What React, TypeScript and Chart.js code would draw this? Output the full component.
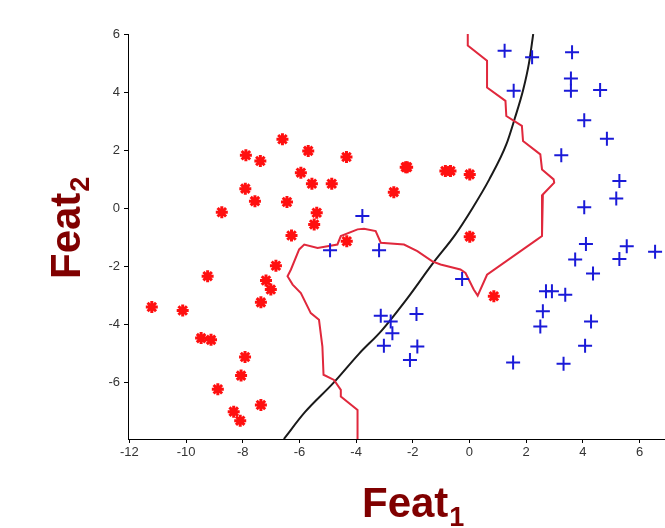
import React, { useEffect, useRef } from "react";
import { Chart, registerables } from "chart.js";

Chart.register(...registerables);

// Class 1 (red asterisks)
const redX = [-6.60, -7.89, -7.38, -5.69, -4.34, -5.95, -5.56, -4.86, -7.91, -7.57, -6.44, -8.74, -5.39, -5.48, -2.67, -2.25, -0.85, -0.67, 0.01, 0.01, -6.28, -4.33, -6.83, -9.24, -7.18, -7.01, -7.36, -11.21, -10.12, -9.47, -9.12, -7.92, -8.06, -8.88, -8.32, -8.09, -7.36, 0.86, -2.20];
const redY = [2.38, 1.83, 1.63, 1.98, 1.77, 1.23, 0.85, 0.85, 0.68, 0.25, 0.22, -0.13, -0.15, -0.55, 0.56, 1.42, 1.29, 1.29, 1.17, -0.97, -0.93, -1.13, -1.97, -2.33, -2.48, -2.79, -3.23, -3.39, -3.51, -4.46, -4.52, -5.11, -5.75, -6.22, -6.99, -7.30, -6.76, -3.02, 1.42];

// Class 2 (blue plus signs)
const blueX = [1.24, 2.21, 3.62, 3.58, 3.58, 4.61, 1.56, 4.05, 4.85, 3.24, 5.29, 5.18, 4.05, -3.78, -4.92, -3.19, -3.13, -2.78, -2.72, -3.02, -0.26, 4.11, 5.55, 6.55, 3.73, 5.29, 4.36, 2.70, 2.91, 3.38, 2.59, 2.50, 4.29, 4.08, 1.54, 3.32, -1.87, -1.84, -2.10];
const blueY = [5.42, 5.20, 5.37, 4.47, 4.05, 4.07, 4.05, 3.03, 2.40, 1.83, 0.94, 0.34, 0.04, -0.26, -1.44, -1.44, -3.69, -3.89, -4.29, -4.72, -2.43, -1.22, -1.30, -1.49, -1.76, -1.74, -2.24, -2.85, -2.85, -2.97, -3.54, -4.06, -3.89, -4.72, -5.30, -5.34, -3.63, -4.75, -5.21];

// Black smooth boundary
const curveX = [-6.55, -5.8, -4.8, -3.9, -3.1, -2.2, -1.3, -0.5, 0.1, 0.7, 1.3, 1.6, 1.9, 2.1, 2.25];
const curveY = [-7.93, -7.0, -6.0, -5.0, -4.2, -3.1, -1.9, -0.9, 0.0, 1.0, 2.2, 3.1, 4.1, 5.0, 6.0];

// Red jagged boundary
const jagX = [-0.06, -0.06, 0.62, 0.62, 1.27, 1.30, 1.85, 1.89, 2.50, 2.56, 2.97, 2.99, 2.59, 2.56, 2.38, 0.62, 0.29, 0.15, -0.14, -0.32, -1.02, -1.31, -1.84, -2.31, -3.13, -3.31, -3.72, -3.95, -4.54, -4.66, -5.01, -5.36, -5.83, -6.01, -6.30, -6.42, -6.24, -5.95, -5.60, -5.31, -5.19, -5.15, -4.78, -4.54, -4.54, -3.95, -3.95];
const jagY = [6.0, 5.60, 5.08, 4.16, 3.70, 3.18, 2.84, 2.32, 1.86, 1.34, 1.00, 0.89, 0.48, -0.95, -1.07, -2.28, -3.0, -2.79, -2.22, -2.10, -1.93, -1.82, -1.47, -1.24, -1.18, -0.78, -0.70, -0.72, -0.95, -1.24, -1.30, -1.36, -1.24, -1.41, -2.10, -2.33, -2.62, -2.91, -3.60, -3.83, -4.75, -5.72, -5.90, -6.24, -6.47, -6.93, -7.93];

const xTicks = [-12, -10, -8, -6, -4, -2, 0, 2, 4, 6];
const yTicks = [-6, -4, -2, 0, 2, 4, 6];

const zip = (xs: number[], ys: number[]) => xs.map((x, i) => ({ x, y: ys[i] }));

const titlePlugin = {
  id: "featTitles",
  afterDraw(chart: any) {
    const ctx = chart.ctx;
    ctx.save();
    ctx.fillStyle = "#800000";
    ctx.textBaseline = "alphabetic";
    ctx.textAlign = "left";
    // x title
    ctx.font = "bold 42px 'Liberation Sans', Arial, sans-serif";
    ctx.fillText("Feat", 362, 517);
    const w = ctx.measureText("Feat").width;
    ctx.font = "bold 27px 'Liberation Sans', Arial, sans-serif";
    ctx.fillText("1", 362 + w + 1, 526);
    // y title
    ctx.translate(80, 279);
    ctx.rotate(-Math.PI / 2);
    ctx.font = "bold 42px 'Liberation Sans', Arial, sans-serif";
    ctx.fillText("Feat", 0, 0);
    const w2 = ctx.measureText("Feat").width;
    ctx.font = "bold 27px 'Liberation Sans', Arial, sans-serif";
    ctx.fillText("2", w2 + 1, 9);
    ctx.restore();
  },
};

export default function App() {
  const ref = useRef<HTMLCanvasElement | null>(null);
  useEffect(() => {
    if (!ref.current) return;
    const chart = new Chart(ref.current, {
      type: "scatter",
      data: {
        datasets: [
          {
            label: "Class 1",
            data: zip(redX, redY),
            pointStyle: "star",
            pointRadius: 6,
            borderWidth: 3,
            borderColor: "#ff1010",
            backgroundColor: "#ff1010",
          },
          {
            label: "Class 2",
            data: zip(blueX, blueY),
            pointStyle: "cross",
            pointRadius: 7,
            borderWidth: 2,
            borderColor: "#1a1ad8",
            backgroundColor: "#1a1ad8",
          },
          {
            label: "Boundary (jagged)",
            type: "line",
            data: zip(jagX, jagY),
            showLine: true,
            pointRadius: 0,
            borderColor: "#e0283c",
            borderWidth: 2,
            tension: 0,
          } as any,
          {
            label: "Boundary (smooth)",
            type: "line",
            data: zip(curveX, curveY),
            showLine: true,
            pointRadius: 0,
            borderColor: "#1a1a1a",
            borderWidth: 2,
            tension: 0.4,
            cubicInterpolationMode: "monotone",
          } as any,
        ],
      },
      options: {
        animation: false,
        responsive: true,
        maintainAspectRatio: false,
        layout: { autoPadding: false, padding: { top: 34, right: 0, left: 0, bottom: 0 } },
        plugins: { legend: { display: false }, tooltip: { enabled: false } },
        scales: {
          x: {
            type: "linear",
            min: -12.05,
            max: 6.9,
            afterBuildTicks: (s: any) => {
              s.ticks = xTicks.map((v) => ({ value: v }));
            },
            afterFit: (s: any) => {
              s.height = 89;
            },
            grid: { drawOnChartArea: false, drawTicks: true, tickLength: 4, color: "#000" },
            border: { display: true, color: "#000", width: 1 },
            ticks: {
              color: "#333",
              font: { family: "'Liberation Sans', Arial, sans-serif", size: 13 },
              padding: 2,
              maxRotation: 0,
            },
          },
          y: {
            type: "linear",
            min: -7.93,
            max: 6,
            afterBuildTicks: (s: any) => {
              s.ticks = yTicks.map((v) => ({ value: v }));
            },
            afterFit: (s: any) => {
              s.width = 128;
            },
            grid: { drawOnChartArea: false, drawTicks: true, tickLength: 4, color: "#000" },
            border: { display: true, color: "#000", width: 1 },
            ticks: {
              color: "#333",
              font: { family: "'Liberation Sans', Arial, sans-serif", size: 13 },
              padding: 4,
            },
          },
        },
      },
      plugins: [titlePlugin],
    });
    return () => chart.destroy();
  }, []);
  return (
    <div style={{ position: "fixed", left: 0, top: 0, width: 665, height: 528, background: "#fff" }}>
      <canvas ref={ref} />
    </div>
  );
}
